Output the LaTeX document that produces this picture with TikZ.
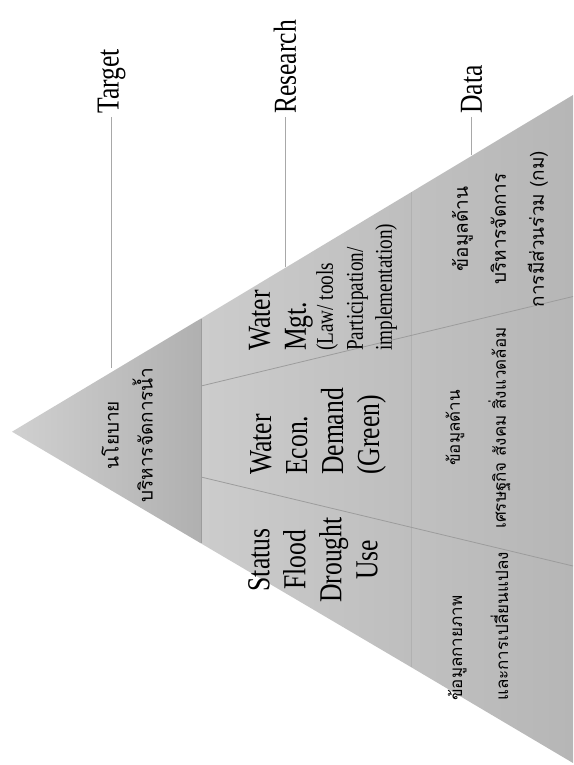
\documentclass[tikz,border=0pt]{standalone}
\usepackage{fontspec}
\setmainfont{Liberation Serif}
\newfontfamily\narrowserif[FakeStretch=0.8]{Liberation Serif}
\newfontfamily\thaifont[Script=Thai]{Loma}
\usepackage{tikz}
\usetikzlibrary{positioning}

\definecolor{apexgray}{HTML}{D0D0D0}
\definecolor{tierAgray}{HTML}{B0B0B0}
\definecolor{tierBleft}{HTML}{CCCCCC}
\definecolor{tierBright}{HTML}{BEBEBE}
\definecolor{tierCleft}{HTML}{C0C0C0}
\definecolor{tierCright}{HTML}{B6B6B6}
\definecolor{divgray}{HTML}{9C9C9C}
\definecolor{leadgray}{HTML}{A8A8A8}

\begin{document}
\begin{tikzpicture}[x=1pt,y=-1pt,
  big/.style={rotate=90,font=\narrowserif\fontsize{32}{36}\selectfont,inner sep=1pt},
  tag/.style={rotate=90,anchor=west,font=\narrowserif\fontsize{32}{36}\selectfont,inner sep=3pt},
  thai/.style={rotate=90,align=center,font=\thaifont\fontsize{19}{34}\selectfont,inner sep=1pt},
  leader/.style={draw=leadgray,line width=0.8pt},
  divider/.style={draw=divgray,line width=0.8pt}]

	\useasboundingbox (0,0) rectangle (573,765);

	% corners of the pyramid and tier borders
	\coordinate (apex) at (12,431.7);
	\coordinate (topc) at (573,95);
	\coordinate (botc) at (573,763);
	\coordinate (t1) at (201,318.5);
	\coordinate (b1) at (201,543.4);
	\coordinate (t2) at (411,192.3);
	\coordinate (b2) at (411,667.1);

	\shade[left color=apexgray,right color=tierAgray] (apex) -- (t1) -- (b1) -- cycle;
	\shade[left color=tierBleft,right color=tierBright] (t1) -- (t2) -- (b2) -- (b1) -- cycle;
	\shade[left color=tierCleft,right color=tierCright] (t2) -- (topc) -- (botc) -- (b2) -- cycle;

	% column borders
	\coordinate (u1) at (201,386);
	\coordinate (u2) at (573,296.5);
	\coordinate (l1) at (201,477);
	\coordinate (l2) at (573,566);
	\draw[divider] (t1) -- (b1);
	\draw[divider,draw opacity=0.4] (t2) -- (b2);
	\draw[divider] (u1) -- (u2);
	\draw[divider] (l1) -- (l2);

	% level labels
	\node[tag] (target) at (111.7,117) {Target};
	\node[tag] (research) at (285,117) {Research};
	\node[tag] (data) at (471.5,117) {Data};
	\coordinate (tgtend) at (111.7,368);
	\coordinate (resend) at (285,267);
	\coordinate (datend) at (471.5,155);
	\draw[leader] (target.west) -- (target.west |- tgtend);
	\draw[leader] (research.west) -- (research.west |- resend);
	\draw[leader] (data.west) -- (data.west |- datend);

	% tier 1
	\node[thai] (policy) at (127,435) {นโยบาย\\บริหารจัดการน้ำ};

	% tier 2
	\node[big,align=center] (status) at (313,560) {Status\\Flood\\Drought\\Use};
	\node[big,align=left,anchor=west] (econ) at (318,476) {Water\\Econ.\\Demand\\(Green)};
	\node[big,align=left,anchor=west] (mgt) at (323,352) {Water\\Mgt.\\[-9pt]
		{\fontsize{24}{26}\selectfont (Law/ tools}\\[-6pt]
		{\fontsize{24}{26}\selectfont Participation/}\\[-7pt]
		{\fontsize{24}{26}\selectfont implementation)}};

	% tier 3
	\node[thai,align=left,anchor=west,font=\thaifont\fontsize{17}{46}\selectfont] (physdata) at (478,702) {ข้อมูลกายภาพ\\และการเปลี่ยนแปลง};
	\node[thai,font=\thaifont\fontsize{17}{46}\selectfont] (socdata) at (478,428) {ข้อมูลด้าน\\เศรษฐกิจ สังคม สิ่งแวดล้อม};
	\node[thai,font=\thaifont\fontsize{19}{38}\selectfont] (mgtdata) at (500,229) {ข้อมูลด้าน\\บริหารจัดการ\\การมีส่วนร่วม (กม)};

\end{tikzpicture}
\end{document}
